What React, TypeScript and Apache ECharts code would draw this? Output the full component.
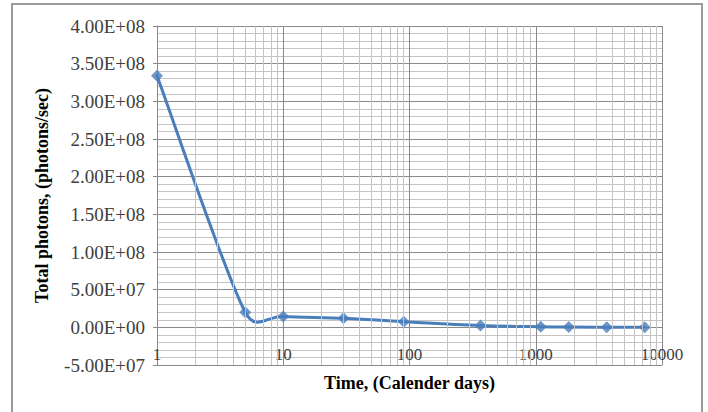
import React, { useEffect, useRef } from "react";
import * as echarts from "echarts";

const days = [1, 5, 10, 30, 90, 365, 1095, 1825, 3650, 7300];
const photons = [3.34e8, 2.0e7, 1.45e7, 1.2e7, 7.5e6, 2.5e6, 8e5, 4e5, 2e5, 1e5];
const decades = [1, 10, 100, 1000];
const minorMultipliers = [2, 3, 4, 5, 6, 7, 8, 9];

const LINE_COLOR = "#4a7ebb";

function sci(v: number): string {
  if (v === 0) return "0.00E+00";
  const s = v.toExponential(2);
  const [m, e] = s.split("e");
  const sign = e[0];
  const d = e.slice(1).padStart(2, "0");
  return m + "E" + sign + d;
}

// Excel-like smoothed segment between point i and i+1 (pixel space)
function controlPoint(p: number[], prev: number[], next: number[], segLen: number, dir: number) {
  let vx = (next[0] - prev[0]) / 6;
  let vy = (next[1] - prev[1]) / 6;
  const len = Math.hypot(vx, vy);
  const cap = 0.6 * segLen;
  if (len > cap && len > 0) {
    vx = (vx / len) * cap;
    vy = (vy / len) * cap;
  }
  return [p[0] + dir * vx, p[1] + dir * vy];
}

export default function App() {
  const ref = useRef<HTMLDivElement>(null);
  useEffect(() => {
    if (!ref.current) return;
    const chart = echarts.init(ref.current, null, { renderer: "svg" });
    const minorLines: any[] = [];
    decades.forEach((d) => minorMultipliers.forEach((k) => minorLines.push({ xAxis: d * k })));
    const font = "'Liberation Serif', 'Times New Roman', serif";
    const points = days.map((d, i) => [d, photons[i]]);
    chart.setOption({
      animation: false,
      backgroundColor: "#ffffff",
      textStyle: { fontFamily: font },
      graphic: [
        {
          type: "rect",
          shape: { x: 12, y: 4, width: 690, height: 420 },
          style: { fill: "none", stroke: "#9a9a9a", lineWidth: 2 },
          silent: true,
          z: 100,
        },
      ],
      grid: { left: 157, right: 46, top: 26, bottom: 47, containLabel: false },
      xAxis: {
        type: "log",
        logBase: 10,
        min: 1,
        max: 10000,
        name: "Time, (Calender days)",
        nameLocation: "middle",
        nameGap: 9,
        nameTextStyle: { fontFamily: font, fontWeight: "bold", fontSize: 18, color: "#000" },
        axisLine: { show: true, lineStyle: { color: "#888", width: 1 } },
        axisTick: { show: false },
        axisLabel: {
          inside: true,
          margin: 2,
          fontFamily: font,
          fontSize: 17,
          color: "#404040",
          formatter: (v: number) => String(Math.round(v)),
        },
        splitLine: { show: true, lineStyle: { color: "#8a8a8a", width: 1 } },
      },
      yAxis: {
        type: "value",
        min: -5e7,
        max: 4e8,
        interval: 5e7,
        name: "Total photons, (photons/sec)",
        nameLocation: "middle",
        nameGap: 106,
        nameTextStyle: { fontFamily: font, fontWeight: "bold", fontSize: 18, color: "#000" },
        axisLine: { show: true, lineStyle: { color: "#888", width: 1 } },
        axisTick: { show: true, length: 4, lineStyle: { color: "#888" } },
        axisLabel: {
          margin: 12,
          fontFamily: font,
          fontSize: 19,
          color: "#404040",
          formatter: (v: number) => sci(v),
        },
        splitLine: { show: true, lineStyle: { color: "#8a8a8a", width: 1 } },
        minorTick: { show: false, splitNumber: 5 },
        minorSplitLine: { show: true, lineStyle: { color: "#c4c4c4", width: 1 } },
      },
      series: [
        {
          type: "line",
          z: 1,
          data: [],
          silent: true,
          markLine: {
            silent: true,
            symbol: ["none", "none"],
            label: { show: false },
            lineStyle: { type: "solid", color: "#c4c4c4", width: 1 },
            data: minorLines,
          },
        },
        {
          type: "custom",
          z: 3,
          silent: true,
          data: points,
          encode: { x: 0, y: 1 },
          renderItem: (params: any, api: any) => {
            const i = params.dataIndex;
            const n = points.length;
            if (i >= n - 1) return null;
            const c = (j: number) => api.coord(points[Math.max(0, Math.min(n - 1, j))]);
            const p0 = c(i - 1);
            const p1 = c(i);
            const p2 = c(i + 1);
            const p3 = c(i + 2);
            const segLen = Math.hypot(p2[0] - p1[0], p2[1] - p1[1]);
            const cp1 = controlPoint(p1, p0, p2, segLen, 1);
            const cp2 = controlPoint(p2, p1, p3, segLen, -1);
            return {
              type: "bezierCurve",
              shape: {
                x1: p1[0],
                y1: p1[1],
                x2: p2[0],
                y2: p2[1],
                cpx1: cp1[0],
                cpy1: cp1[1],
                cpx2: cp2[0],
                cpy2: cp2[1],
              },
              style: { stroke: LINE_COLOR, lineWidth: 3, fill: "none", lineCap: "round" },
            };
          },
        },
        {
          type: "scatter",
          z: 4,
          data: points,
          symbol: "diamond",
          symbolSize: 12,
          itemStyle: { color: LINE_COLOR },
        },
      ],
    });
    return () => chart.dispose();
  }, []);
  return (
    <div
      ref={ref}
      style={{ position: "fixed", left: 0, top: 0, width: 708, height: 412, background: "#fff" }}
    />
  );
}
